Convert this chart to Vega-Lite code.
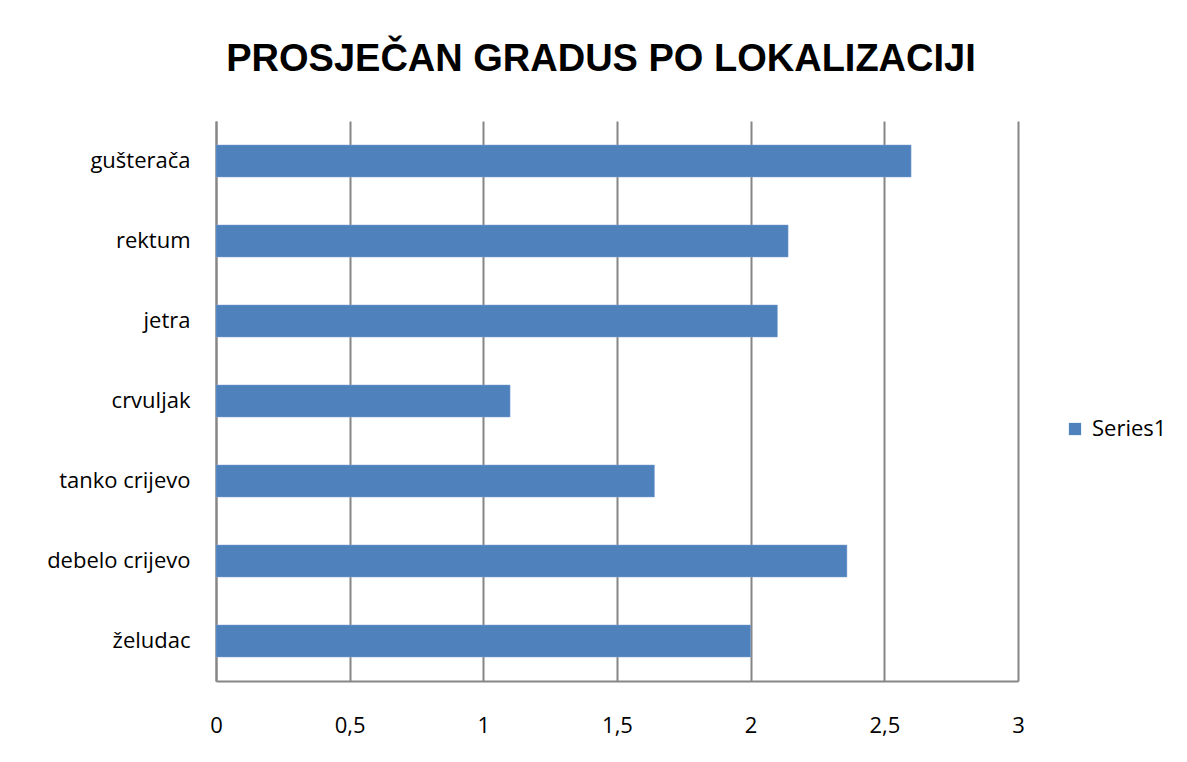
{
  "$schema": "https://vega.github.io/schema/vega-lite/v6.json",
  "width": 802,
  "height": 560,
  "autosize": {"type": "none"},
  "padding": {"left": 216, "top": 121, "right": 169, "bottom": 81},
  "background": "white",
  "title": {
    "text": "PROSJEČAN GRADUS PO LOKALIZACIJI",
    "font": "Liberation Sans",
    "fontSize": 38,
    "fontWeight": "bold",
    "color": "#000000",
    "anchor": "middle",
    "offset": 42,
    "dx": -16
  },
  "data": {
    "values": [
      {"lokalizacija": "gušterača", "gradus": 2.60, "series": "Series1"},
      {"lokalizacija": "rektum", "gradus": 2.14, "series": "Series1"},
      {"lokalizacija": "jetra", "gradus": 2.10, "series": "Series1"},
      {"lokalizacija": "crvuljak", "gradus": 1.10, "series": "Series1"},
      {"lokalizacija": "tanko crijevo", "gradus": 1.64, "series": "Series1"},
      {"lokalizacija": "debelo crijevo", "gradus": 2.36, "series": "Series1"},
      {"lokalizacija": "želudac", "gradus": 2.00, "series": "Series1"}
    ]
  },
  "mark": {"type": "bar", "stroke": "#7fa3d3", "strokeWidth": 0.5},
  "encoding": {
    "y": {
      "field": "lokalizacija",
      "type": "nominal",
      "sort": null,
      "scale": {"paddingInner": 0.6, "paddingOuter": 0.3},
      "axis": {
        "title": null,
        "ticks": false,
        "grid": false,
        "labelPadding": 26,
        "labelFont": "Open Sans",
        "labelFontSize": 22,
        "labelColor": "#000000",
        "domainColor": "#868686",
        "domainWidth": 2
      }
    },
    "x": {
      "field": "gradus",
      "type": "quantitative",
      "scale": {"domain": [0, 3], "nice": false},
      "axis": {
        "title": null,
        "values": [0, 0.5, 1, 1.5, 2, 2.5, 3],
        "format": ".1~f",
        "labelExpr": "replace(datum.label, '.', ',')",
        "ticks": false,
        "grid": true,
        "gridColor": "#868686",
        "gridWidth": 2,
        "gridOpacity": 1,
        "labelPadding": 34,
        "labelFont": "Open Sans",
        "labelFontSize": 22,
        "labelColor": "#000000",
        "labelFlush": false,
        "domainColor": "#868686",
        "domainWidth": 2
      }
    },
    "color": {
      "field": "series",
      "type": "nominal",
      "scale": {"range": ["#4F81BD"]},
      "legend": {
        "title": null,
        "orient": "none",
        "legendX": 848,
        "legendY": 297,
        "symbolType": "square",
        "symbolSize": 150,
        "symbolStrokeWidth": 0,
        "labelFont": "Open Sans",
        "labelFontSize": 22,
        "labelColor": "#000000",
        "labelOffset": 6
      }
    }
  },
  "config": {
    "view": {"stroke": null}
  }
}
